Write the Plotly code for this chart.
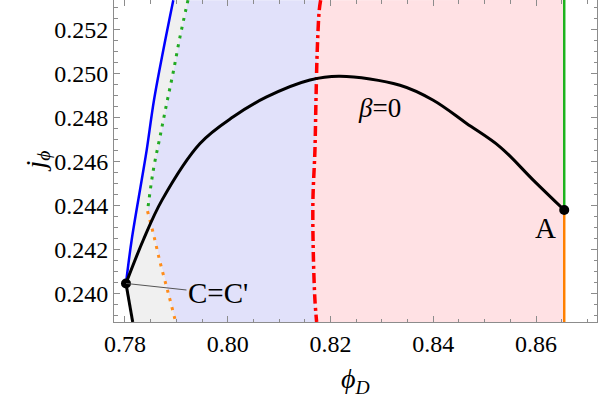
import plotly.graph_objects as go

# ---------------- data ----------------
# beta = 0 curve, from point C to point A
beta0_x = [0.78019, 0.78356, 0.78720, 0.79460, 0.80108, 0.80757, 0.81600,
           0.82184, 0.83352, 0.84000, 0.84649, 0.85298, 0.85946, 0.86549]
beta0_y = [0.24047, 0.24244, 0.24425, 0.24682, 0.24803, 0.24893, 0.24970,
           0.24987, 0.24946, 0.24878, 0.24773, 0.24667, 0.24516, 0.24380]
# black branch below C
lower_x = [0.78019, 0.78150]
lower_y = [0.24047, 0.23872]
# blue line from C upward
blue_x = [0.78019, 0.78130, 0.78325, 0.78422, 0.78564, 0.78745, 0.78940]
blue_y = [0.24047, 0.24244, 0.24516, 0.24652, 0.24878, 0.25105, 0.25332]
# green dotted (top to junction)
green_x = [0.79226, 0.79070, 0.78940, 0.78811, 0.78681, 0.78551, 0.78438]
green_y = [0.25332, 0.25165, 0.25007, 0.24863, 0.24712, 0.24561, 0.24375]
# orange dotted (junction to bottom)
orange_x = [0.78438, 0.78531, 0.78570, 0.78681, 0.78843, 0.78973, 0.78985]
orange_y = [0.24375, 0.24292, 0.24256, 0.24145, 0.24002, 0.23884, 0.23872]
# red dash-dot (top to bottom)
red_x = [0.81808, 0.81781, 0.81742, 0.81717, 0.81697, 0.81658, 0.81664, 0.81697, 0.81730]
red_y = [0.25332, 0.25287, 0.25105, 0.24878, 0.24652, 0.24425, 0.24198, 0.23971, 0.23872]
# points A and C, plot ranges
xA, yA = 0.86549, 0.24380
xC, yC = 0.78019, 0.24047
y_lo, y_hi = 0.23872, 0.25333
x_lo, x_hi = 0.77786, 0.87187

x_ticks = [0.78, 0.80, 0.82, 0.84, 0.86]
y_ticks = [0.240, 0.242, 0.244, 0.246, 0.248, 0.250, 0.252]

FONT = "Liberation Serif"
PINK = "#ffe1e4"
LAV = "#e1e1fa"
GREY = "#f0f0f0"

fig = go.Figure()

# ---- filled regions ----
fig.add_trace(go.Scatter(
    x=red_x + [xA, xA], y=red_y + [y_lo, y_hi],
    fill="toself", fillcolor=PINK, line=dict(width=0), mode="lines",
    hoverinfo="skip", showlegend=False))
fig.add_trace(go.Scatter(
    x=green_x + orange_x + red_x[::-1], y=green_y + orange_y + red_y[::-1],
    fill="toself", fillcolor=LAV, line=dict(width=0), mode="lines",
    hoverinfo="skip", showlegend=False))
fig.add_trace(go.Scatter(
    x=blue_x + green_x + orange_x + lower_x[::-1],
    y=blue_y + green_y + orange_y + lower_y[::-1],
    fill="toself", fillcolor=GREY, line=dict(width=0), mode="lines",
    hoverinfo="skip", showlegend=False))

# ---- lines ----
fig.add_trace(go.Scatter(x=blue_x, y=blue_y, mode="lines",
                         line=dict(color="#0000ff", width=2.5, shape="spline"),
                         showlegend=False))
fig.add_trace(go.Scatter(x=green_x, y=green_y, mode="lines",
                         line=dict(color="#22aa22", width=3, dash="3px,6px", shape="spline"),
                         showlegend=False))
fig.add_trace(go.Scatter(x=orange_x, y=orange_y, mode="lines",
                         line=dict(color="#ff8c1a", width=3, dash="3px,6px", shape="spline"),
                         showlegend=False))
fig.add_trace(go.Scatter(x=red_x, y=red_y, mode="lines",
                         line=dict(color="#ff0000", width=3.5, dash="10px,4px,3px,4px",
                                   shape="spline"),
                         showlegend=False))
fig.add_trace(go.Scatter(x=[xA, xA], y=[yA, y_hi], mode="lines",
                         line=dict(color="#1db31d", width=2.5), showlegend=False))
fig.add_trace(go.Scatter(x=[xA, xA], y=[y_lo, yA], mode="lines",
                         line=dict(color="#ff8000", width=2.5), showlegend=False))
fig.add_trace(go.Scatter(x=beta0_x, y=beta0_y, mode="lines",
                         line=dict(color="black", width=3, shape="spline", smoothing=1.0),
                         showlegend=False))
fig.add_trace(go.Scatter(x=lower_x, y=lower_y, mode="lines",
                         line=dict(color="black", width=3), showlegend=False))
fig.add_trace(go.Scatter(x=[xC, xA], y=[yC, yA], mode="markers",
                         marker=dict(color="black", size=10), showlegend=False))

# ---- annotations ----
fig.add_annotation(x=xC, y=yC, text="C=C'", showarrow=True, arrowhead=0,
                   arrowwidth=1, arrowcolor="#555555", ax=92, ay=10,
                   xanchor="center", font=dict(family=FONT, size=29, color="black"))
fig.add_annotation(x=xA, y=yA, text="A", showarrow=False, xanchor="right",
                   yanchor="top", xshift=-6, yshift=0,
                   font=dict(family=FONT, size=29, color="black"))
fig.add_annotation(x=0.82944, y=0.24842, text="<i>β</i>=0", showarrow=False,
                   font=dict(family=FONT, size=27, color="black"))
fig.add_annotation(xref="paper", yref="paper", x=0.5, y=0, yshift=-78,
                   text="<i>ϕ</i><sub><i>D</i></sub>", showarrow=False,
                   font=dict(family=FONT, size=28, color="black"))
fig.add_annotation(xref="paper", yref="paper", x=0, y=0.5, xshift=-97,
                   text="<i>j</i><sub><i>ϕ</i></sub>", showarrow=False, textangle=-90,
                   font=dict(family=FONT, size=28, color="black"))

axis_common = dict(
    showgrid=False, zeroline=False, showline=True, linecolor="#8c8c8c", linewidth=1,
    mirror="allticks", ticks="inside", ticklen=6, tickwidth=1, tickcolor="#8c8c8c",
    tickfont=dict(family=FONT, size=24, color="black"), automargin=False,
)

fig.update_xaxes(range=[x_lo, x_hi], tickvals=x_ticks, tickformat=".2f",
                 minor=dict(ticks="inside", dtick=0.005, tick0=0.78, ticklen=3.5,
                            tickcolor="#8c8c8c", tickwidth=1),
                 **axis_common)
fig.update_yaxes(range=[y_lo, y_hi], tickvals=y_ticks, tickformat=".3f",
                 minor=dict(ticks="inside", dtick=0.0005, tick0=0.24, ticklen=3.5,
                            tickcolor="#8c8c8c", tickwidth=1),
                 **axis_common)

fig.update_layout(
    width=599, height=404,
    margin=dict(l=114, r=2, t=0, b=82, autoexpand=False),
    plot_bgcolor="white", paper_bgcolor="white",
    font=dict(family=FONT),
)

fig.write_html("out.html", config={"displayModeBar": False},
               post_script="document.body.style.margin='0';")
